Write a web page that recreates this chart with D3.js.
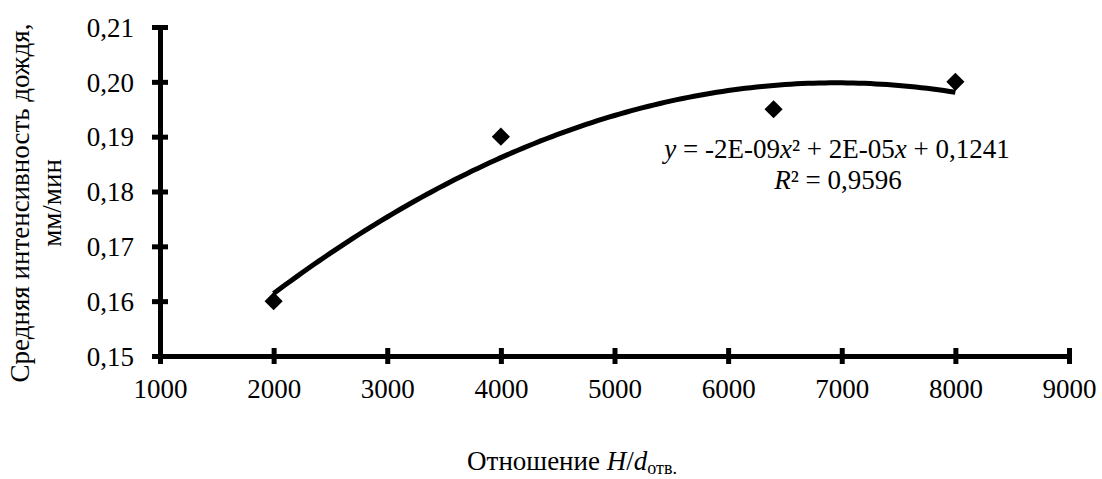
<!DOCTYPE html>
<html><head><meta charset="utf-8">
<script src="https://cdn.jsdelivr.net/npm/d3@7"></script>
<style>body{margin:0;background:#fff} text{font-family:"Liberation Serif","Times New Roman",serif}</style>
</head><body>
<svg id="c" width="1102" height="479"></svg>
<script>
const xValues = [2000, 4000, 6400, 8000];
const yValues = [0.16, 0.19, 0.195, 0.20];
const xTicks = [1000, 2000, 3000, 4000, 5000, 6000, 7000, 8000, 9000];
const yTicks = [0.15, 0.16, 0.17, 0.18, 0.19, 0.20, 0.21];

const svg = d3.select("#c");
const x = d3.scaleLinear().domain([1000, 9000]).range([160, 1069]);
const y = d3.scaleLinear().domain([0.15, 0.21]).range([356, 27]);

// least-squares quadratic trendline fitted from data
function fitQuad(xs, ys) {
  const S = [0,0,0,0,0], T = [0,0,0];
  xs.forEach((xv,i)=>{const t=xv/1000; for(let k=0;k<5;k++)S[k]+=Math.pow(t,k); for(let k=0;k<3;k++)T[k]+=ys[i]*Math.pow(t,k);});
  const A=[[S[0],S[1],S[2],T[0]],[S[1],S[2],S[3],T[1]],[S[2],S[3],S[4],T[2]]];
  for(let i=0;i<3;i++){for(let j=i+1;j<3;j++){const f=A[j][i]/A[i][i];for(let k=i;k<4;k++)A[j][k]-=f*A[i][k];}}
  const c=[0,0,0];
  for(let i=2;i>=0;i--){let s=A[i][3];for(let k=i+1;k<3;k++)s-=A[i][k]*c[k];c[i]=s/A[i][i];}
  return t=>c[0]+c[1]*(t/1000)+c[2]*(t/1000)*(t/1000);
}
const f = fitQuad(xValues, yValues);
const curve = d3.range(2000, 8000.1, 50).map(v=>[v, f(v)]);

const ax = d3.axisBottom(x).tickValues(xTicks).tickSizeInner(0).tickSizeOuter(0).tickFormat(d=>d);
const ay = d3.axisLeft(y).tickValues(yTicks).tickSizeInner(0).tickSizeOuter(0).tickFormat(d=>d3.format(".2f")(d).replace(".", ","));

const gx = svg.append("g").attr("transform","translate(0,356)").call(ax).attr("font-family",null);
gx.select(".domain").attr("stroke","#000").attr("stroke-width",5);
gx.selectAll(".tick line").remove();
gx.selectAll(".tick").append("line").attr("y1",-8).attr("y2",8).attr("stroke","#000").attr("stroke-width",5);
gx.selectAll(".tick text").attr("y",42).attr("dy",0).attr("font-size",27).attr("fill","#000");

const gy = svg.append("g").attr("transform","translate(160,0)").call(ay).attr("font-family",null);
gy.select(".domain").attr("stroke","#000").attr("stroke-width",5);
gy.selectAll(".tick line").remove();
gy.selectAll(".tick").append("line").attr("x1",-8).attr("x2",8).attr("stroke","#000").attr("stroke-width",5);
gy.selectAll(".tick text").attr("x",-26).attr("dy","0.34em").attr("font-size",27).attr("fill","#000");

svg.append("path").datum(curve)
  .attr("d", d3.line().x(d=>x(d[0])).y(d=>y(d[1])))
  .attr("fill","none").attr("stroke","#000").attr("stroke-width",5);

svg.selectAll(".pt").data(xValues).join("path").attr("class","pt")
  .attr("d", d3.symbol(d3.symbolSquare, 165)())
  .attr("transform",(d,i)=>`translate(${x(d)},${y(yValues[i])}) rotate(45)`)
  .attr("fill","#000");

// equation
const eq = svg.append("g").attr("font-size",27).attr("fill","#000");
const t1 = eq.append("text").attr("x",837).attr("y",158).attr("text-anchor","middle");
t1.append("tspan").attr("font-style","italic").text("y");
t1.append("tspan").text(" = -2E-09");
t1.append("tspan").attr("font-style","italic").text("x");
t1.append("tspan").text("² + 2E-05");
t1.append("tspan").attr("font-style","italic").text("x");
t1.append("tspan").text(" + 0,1241");
const t2 = eq.append("text").attr("x",838).attr("y",189).attr("text-anchor","middle");
t2.append("tspan").attr("font-style","italic").text("R");
t2.append("tspan").text("² = 0,9596");

// axis titles
const yt = svg.append("text").attr("transform","translate(29,203) rotate(-90)")
  .attr("text-anchor","middle").attr("font-size",27).attr("fill","#000");
yt.append("tspan").attr("x",0).attr("y",0).text("Средняя интенсивность дождя,");
yt.append("tspan").attr("x",0).attr("y",32).text("мм/мин");

const xt = svg.append("text").attr("x",572).attr("y",470).attr("text-anchor","middle")
  .attr("font-size",27).attr("fill","#000");
xt.append("tspan").text("Отношение ");
xt.append("tspan").attr("font-style","italic").text("H");
xt.append("tspan").text("/");
xt.append("tspan").attr("font-style","italic").text("d");
xt.append("tspan").attr("font-size",18).attr("dy",4).text("отв.");
</script>
</body></html>
